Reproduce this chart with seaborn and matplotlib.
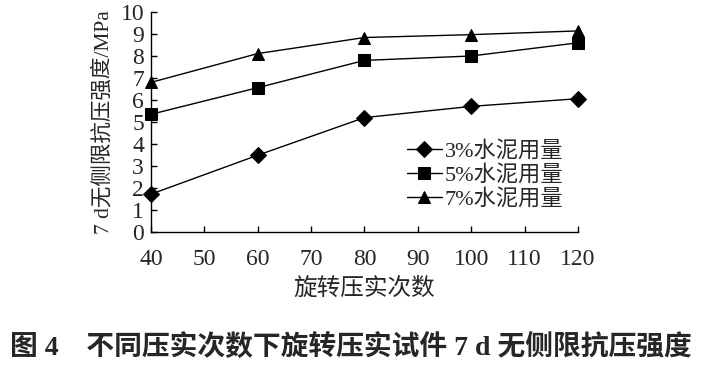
import matplotlib.pyplot as plt
import pandas as pd
import seaborn as sns

passes = [40, 60, 80, 100, 120]
cement_3 = [1.72, 3.49, 5.2, 5.71, 6.06]
cement_5 = [5.35, 6.56, 7.8, 8.0, 8.6]
cement_7 = [6.8, 8.11, 8.84, 8.97, 9.14]
series_names = ["3%水泥用量", "5%水泥用量", "7%水泥用量"]

data = pd.DataFrame({
    "passes": passes * 3,
    "strength": cement_3 + cement_5 + cement_7,
    "series": [n for n in series_names for _ in passes],
})

sns.set_style("ticks")
plt.rcParams["font.family"] = ["Liberation Serif", "Noto Sans CJK SC"]

fig = plt.figure(figsize=(7.01, 3.68), dpi=100)
ax = fig.add_axes([0.2154, 0.3696, 0.6091, 0.5978])

sns.lineplot(
    data=data, x="passes", y="strength", hue="series", style="series",
    markers=["D", "s", "^"], dashes=False,
    palette=["black", "black", "black"], markersize=8, linewidth=1,
    markeredgecolor="black", ax=ax,
)
for line in ax.lines:
    line.set_clip_on(False)

ax.set_xlim(40, 120)
ax.set_ylim(0, 10)
ax.set_xticks(range(40, 121, 10))
ax.set_yticks(range(0, 11))
ax.tick_params(direction="in", length=4, width=1, labelsize=17, color="black")
ax.tick_params(axis="x", pad=12)
ax.tick_params(axis="y", pad=5)
for side in ["top", "right"]:
    ax.spines[side].set_visible(False)
for side in ["left", "bottom"]:
    ax.spines[side].set_linewidth(1)
    ax.spines[side].set_color("black")

ax.set_xlabel("旋转压实次数", fontsize=17, labelpad=6)
ax.set_ylabel("7 d无侧限抗压强度/MPa", fontsize=15.5, labelpad=5)

handles, labels = ax.get_legend_handles_labels()
ax.legend(handles, labels, loc="lower right", bbox_to_anchor=(1.012, 0.01),
          frameon=False, fontsize=16, handlelength=1.6, handletextpad=0.1,
          labelspacing=0.15)

fig.text(0.5, 0.055, "图 4　不同压实次数下旋转压实试件 7 d 无侧限抗压强度",
         ha="center", va="center", fontsize=20, fontweight="bold")

fig.savefig("out.png", dpi=100)
